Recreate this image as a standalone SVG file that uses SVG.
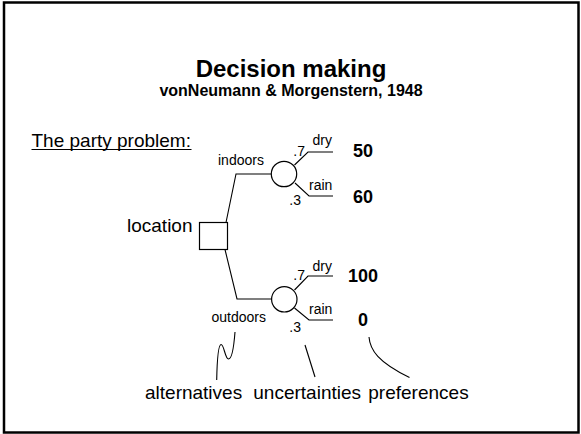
<svg xmlns="http://www.w3.org/2000/svg" width="581" height="434" viewBox="0 0 581 434">
  <style>
    text { font-family: "Liberation Sans", Arial, sans-serif; fill: #000; }
    .title { font-size: 24px; font-weight: bold; }
    .sub { font-size: 16px; font-weight: bold; }
    .big { font-size: 19px; }
    .small { font-size: 14px; }
    .val { font-size: 18px; font-weight: bold; text-anchor: middle; }
    .edge { fill: none; stroke: #000; stroke-width: 1.1; }
    .node { fill: #fff; stroke: #000; stroke-width: 1.2; }
  </style>

  <!-- frame -->
  <rect x="4" y="2.5" width="574.5" height="430" fill="#fff" stroke="#000" stroke-width="2.5"/>

  <!-- heading -->
  <g id="heading">
    <text class="title" x="291" y="76.5" text-anchor="middle">Decision making</text>
    <text class="sub" x="291" y="95.5" text-anchor="middle">vonNeumann &amp; Morgenstern, 1948</text>
  </g>

  <g id="problem-label">
    <text class="big" x="31.5" y="146.5">The party problem:</text>
    <line x1="31.5" y1="149.5" x2="191.5" y2="149.5" stroke="#000" stroke-width="1.2"/>
  </g>

  <!-- branches of the tree -->
  <g id="connectors">
    <polyline class="edge" points="226,222.5 236,174 271,174"/>
    <polyline class="edge" points="294.5,165 308,152 333,152"/>
    <polyline class="edge" points="295,183 309,196 333,196"/>
    <polyline class="edge" points="225,249.5 237,299 271.5,299"/>
    <polyline class="edge" points="294.5,290 308,276 333,276"/>
    <polyline class="edge" points="294.5,308 309,320 333,320"/>
  </g>

  <!-- decision node -->
  <g id="location">
    <rect class="node" x="199.5" y="222.5" width="28" height="27"/>
    <text class="big" x="192.5" y="231.5" text-anchor="end">location</text>
  </g>

  <!-- chance node: indoors -->
  <g id="indoors">
    <text class="small" x="218" y="165">indoors</text>
    <circle class="node" cx="284" cy="174" r="12.7"/>
    <text class="small" x="305" y="155.5" text-anchor="end">.7</text>
    <text class="small" x="312.5" y="145">dry</text>
    <text class="small" x="309" y="189.5">rain</text>
    <text class="small" x="301" y="205" text-anchor="end">.3</text>
  </g>

  <!-- chance node: outdoors -->
  <g id="outdoors">
    <text class="small" x="211.5" y="321.5">outdoors</text>
    <circle class="node" cx="284.3" cy="299.3" r="12.7"/>
    <text class="small" x="305" y="280" text-anchor="end">.7</text>
    <text class="small" x="312.5" y="270.5">dry</text>
    <text class="small" x="309" y="313.5">rain</text>
    <text class="small" x="301" y="331.5" text-anchor="end">.3</text>
  </g>

  <!-- outcome values -->
  <g id="outcome-indoors-dry"><text class="val" x="363" y="157">50</text></g>
  <g id="outcome-indoors-rain"><text class="val" x="363" y="203">60</text></g>
  <g id="outcome-outdoors-dry"><text class="val" x="363" y="281.5">100</text></g>
  <g id="outcome-outdoors-rain"><text class="val" x="363" y="326">0</text></g>

  <!-- hand-drawn pointers to the legend words -->
  <g id="pointers">
    <path class="edge" d="M235,332 C234,345 232,359 228.5,359 C225,359 224,344 221,344.5 C218,345 217,365 216.7,380"/>
    <path class="edge" d="M305,345 L315,377"/>
    <path class="edge" d="M369,337 C370,350 378,362 409.5,377.5"/>
  </g>

  <g id="legend">
    <text class="big" x="145" y="398.5">alternatives</text>
    <text class="big" x="253.3" y="398.5">uncertainties</text>
    <text class="big" x="368.3" y="398.5">preferences</text>
  </g>
</svg>
